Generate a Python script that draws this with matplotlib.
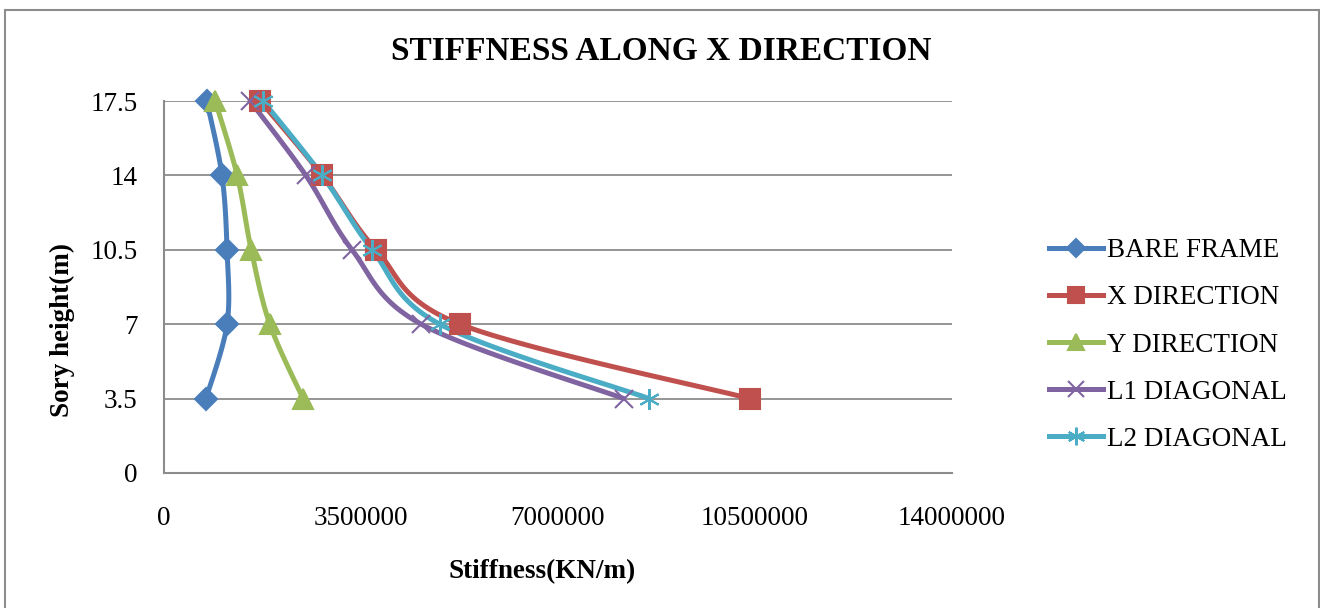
import numpy as np
import matplotlib
matplotlib.use("Agg")
import matplotlib.pyplot as plt
from matplotlib.patches import Rectangle

plt.rcParams['font.family'] = ['Liberation Serif', 'DejaVu Serif']

# storey heights (m)
height = [3.5, 7, 10.5, 14, 17.5]

# stiffness values (KN/m)
bare_frame = [746000, 1120000, 1120000, 1030000, 760000]
x_direction = [10410000, 5260000, 3770000, 2810000, 1710000]
y_direction = [2470000, 1880000, 1550000, 1300000, 910000]
l1_diagonal = [8170000, 4570000, 3340000, 2520000, 1530000]
l2_diagonal = [8620000, 4900000, 3700000, 2810000, 1760000]

series = [
    ("BARE FRAME", bare_frame, '#4A7EBB', 'D', 11),
    ("X DIRECTION", x_direction, '#C0504D', 's', 14),
    ("Y DIRECTION", y_direction, '#9BBB59', '^', 14),
    ("L1 DIAGONAL", l1_diagonal, '#8064A2', 'x', 13),
    ("L2 DIAGONAL", l2_diagonal, '#4BACC6', (6, 2, 0), 15),
]


def smooth(xs, ys, n=30):
    # Excel-style smoothed line (cubic bezier through the points)
    p = np.column_stack([xs, ys]).astype(float)
    ext = np.vstack([p[0], p, p[-1]])
    out = []
    t = np.linspace(0, 1, n)[:, None]
    for i in range(len(p) - 1):
        p0, p1, p2, p3 = ext[i], ext[i + 1], ext[i + 2], ext[i + 3]
        c1 = p1 + (p2 - p0) / 6.0
        c2 = p2 - (p3 - p1) / 6.0
        seg = ((1 - t) ** 3) * p1 + 3 * ((1 - t) ** 2) * t * c1 \
            + 3 * (1 - t) * t ** 2 * c2 + t ** 3 * p2
        out.append(seg if i == 0 else seg[1:])
    out = np.vstack(out)
    return out[:, 0], out[:, 1]


fig = plt.figure(figsize=(13.2, 6.08), dpi=100)
ax = fig.add_axes([164 / 1320, 1 - 473 / 608, (952 - 164) / 1320, (473 - 101) / 608])

for name, vals, col, mk, ms in series:
    sx, sy = smooth(vals, height)
    ax.plot(sx, sy, color=col, lw=3.6, solid_capstyle='round', zorder=3,
            clip_on=False)
    ax.plot(vals, height, linestyle='none', marker=mk, markersize=ms,
            color=col, markeredgecolor=col, markeredgewidth=1.5, zorder=4,
            clip_on=False)
    # legend proxy
    ax.plot([], [], color=col, lw=3.6, marker=mk, markersize=ms * 0.85,
            markeredgecolor=col, markeredgewidth=1.5, label=name)

ax.set_xlim(0, 14000000)
ax.set_ylim(0, 17.5)
ax.set_xticks([0, 3500000, 7000000, 10500000, 14000000])
ax.set_xticklabels(['0', '3500000', '7000000', '10500000', '14000000'])
ax.set_yticks([0] + height)
ax.set_yticklabels(['0', '3.5', '7', '10.5', '14', '17.5'])
ax.tick_params(axis='both', length=0, labelsize=19.5)
ax.tick_params(axis='y', pad=19)
ax.tick_params(axis='x', pad=24)
ax.grid(axis='y', color='#8C8C8C', lw=1.3)
ax.set_axisbelow(True)
for s in ['top', 'right']:
    ax.spines[s].set_visible(False)
for s in ['left', 'bottom']:
    ax.spines[s].set_color('#8C8C8C')
    ax.spines[s].set_linewidth(1.5)

leg = fig.legend(loc='center left', bbox_to_anchor=(1038 / 1320, 1 - 345 / 608),
                 frameon=False, fontsize=19.5, handlelength=2.0, handletextpad=0.15,
                 labelspacing=0.82, borderaxespad=0)

fig.text(661 / 1320, 1 - 52 / 608, 'STIFFNESS ALONG X DIRECTION', ha='center',
         va='center', fontsize=24, fontweight='bold')
fig.text(542 / 1320, 1 - 572 / 608, 'Stiffness(KN/m)', ha='center', va='center',
         fontsize=19.5, fontweight='bold')
fig.text(62 / 1320, 1 - 330 / 608, 'Sory height(m)', ha='center', va='center',
         rotation=90, fontsize=19.5, fontweight='bold')

fig.patches.append(Rectangle((5 / 1320, -0.05), (1319 - 5) / 1320, 1.05 - 10 / 608,
                             transform=fig.transFigure, fill=False,
                             edgecolor='#8C8C8C', lw=1.5))

fig.savefig('out.png', dpi=100)
